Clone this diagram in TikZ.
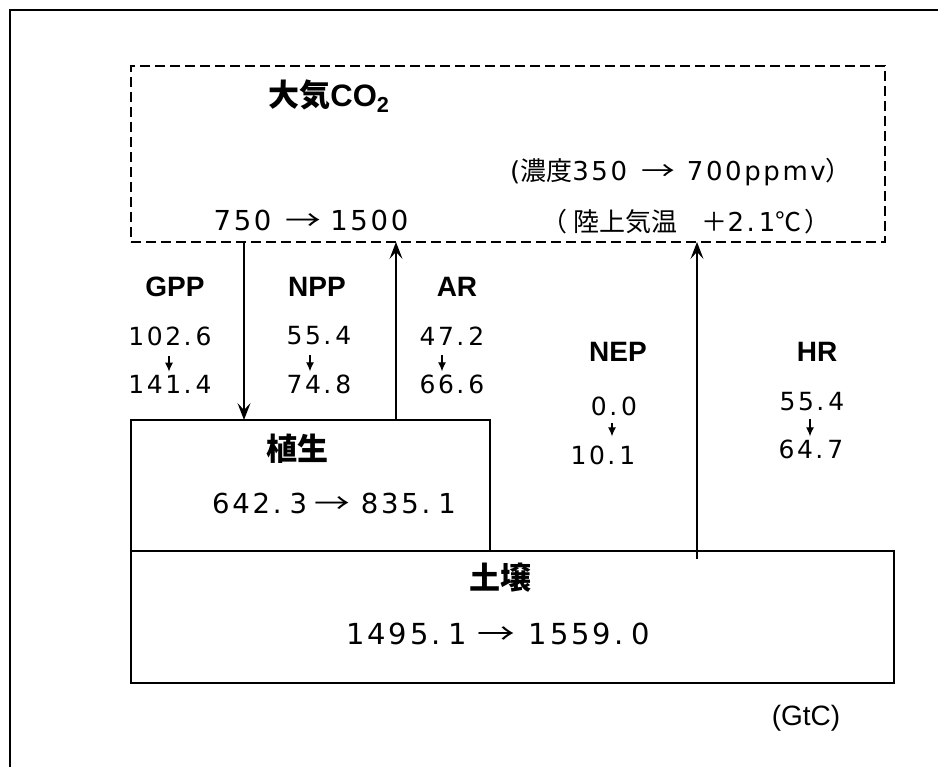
\documentclass[tikz,border=0pt]{standalone}
\usepackage{fontspec}
\usepackage{graphicx}
\setmainfont{Liberation Sans}
\newfontfamily\jp{Noto Sans CJK JP}
\newfontfamily\num[LetterSpace=10]{DejaVu Sans}
\usetikzlibrary{arrows.meta}
\newcommand\ra[3][1.3]{\hspace{#2}\scalebox{#1}[1]{\jp →}\hspace{#3}}
\newcommand\pd{.\hspace{4pt}}
\newcommand\pdl{.\hspace{8pt}}
\tikzset{
  box/.style={draw, line width=1.3pt, inner sep=0pt, outer sep=0pt, anchor=north west},
  bigarr/.style={-{Stealth[length=17pt,width=13pt,inset=7pt]}, line width=1.3pt},
  sarr/.style={-{Latex[length=9pt,width=8pt]}, line width=1.2pt},
  lbl/.style={font=\fontsize{28}{30}\selectfont\bfseries, inner sep=0pt},
  kan/.style={font=\fontsize{31}{33}\selectfont\jp\bfseries, inner sep=0pt},
  numt/.style={font=\fontsize{25}{28}\selectfont\num, inner sep=0pt},
  numa/.style={font=\fontsize{26}{28}\selectfont\num, inner sep=0pt},
  numm/.style={font=\fontsize{27.5}{30}\selectfont\num, inner sep=0pt},
  numl/.style={font=\fontsize{29}{32}\selectfont\num, inner sep=0pt},
}
\begin{document}
\begin{tikzpicture}[x=1pt,y=-1pt]
\clip (0,0) rectangle (938,767);
\draw[line width=2pt] (10,790) -- (10,10) -- (960,10);
% boxes
\node[box, dashed, dash pattern=on 10pt off 5pt, minimum width=754pt, minimum height=176pt] (atm) at (131,66) {};
\node[box, minimum width=359pt, minimum height=131pt] (veg) at (131,420) {};
\node[box, minimum width=763pt, minimum height=132pt] (soil) at (131,551) {};
% arrows
\coordinate (xg) at (244,0);
\coordinate (xa) at (396,0);
\coordinate (hrs) at (697,559);
\draw[bigarr] (xg |- atm.south) -- (xg |- veg.north);
\draw[bigarr] (xa |- veg.north) -- (xa |- atm.south);
\draw[bigarr] (hrs) -- (hrs |- atm.south);
% atmosphere texts
\node[font=\fontsize{31}{33}\selectfont\bfseries, inner sep=0pt] (atmt) at (329,96) {{\jp 大気}CO\textsubscript{2}};
\node[numa] (conc) at (681,172) {({\jp 濃度}350\ra{14pt}{12pt}700ppmv{\jp ）}};
\node[numm] (co2) at (311,220) {750\ra{14pt}{9pt}1500};
\node[numa] (temp) at (686,222) {{\jp （}\hspace{6pt}{\jp 陸上気温}\hspace{24pt}{\jp ＋}2\pd 1{\jp ℃}\hspace{3pt}{\jp ）}};
% flux labels
\node[lbl] (gpp) at (175,287) {GPP};
\node[lbl] (npp) at (317,287) {NPP};
\node[lbl] (ar) at (457,287) {AR};
\node[lbl] (nep) at (618,352) {NEP};
\node[lbl] (hr) at (817,352) {HR};
\node[numt] (g1) at (170,336) {102\pd 6};
\node[numt] (g2) at (170,384) {141\pd 4};
\node[numt] (n1) at (319,336) {55\pd 4};
\node[numt] (n2) at (319,384) {74\pd 8};
\node[numt] (a1) at (452,336) {47\pd 2};
\node[numt] (a2) at (452,384) {66\pd 6};
\node[numt] (e1) at (614,406) {0\pd 0};
\node[numt] (e2) at (603,455) {10\pd 1};
\node[numt] (h1) at (812,402) {55\pd 4};
\node[numt] (h2) at (811,449) {64\pd 7};
\draw[sarr, shorten <=10pt, shorten >=3pt] ([xshift=-1pt]g1.south) -- ([xshift=-1pt]g1.south |- g2.north);
\draw[sarr, shorten <=10pt, shorten >=3pt] ([xshift=-9pt]n1.south) -- ([xshift=-9pt]n1.south |- n2.north);
\draw[sarr, shorten <=10pt, shorten >=3pt] ([xshift=-10pt]a1.south) -- ([xshift=-10pt]a1.south |- a2.north);
\draw[sarr, shorten <=7pt, shorten >=9pt] ([xshift=-2pt]e1.south) -- ([xshift=-2pt]e1.south |- e2.north);
\draw[sarr, shorten <=8pt, shorten >=3pt] ([xshift=-2pt]h1.south) -- ([xshift=-2pt]h1.south |- h2.north);
% pools
\node[kan] (vegt) at (297,449) {植生};
\node[numm] (vegv) at (334,503) {642\pdl 3\ra{7pt}{11pt}835\pdl 1};
\node[kan] (soilt) at (500,578) {土壌};
\node[numl] (soilv) at (498,634) {1495\pdl 1\ra{10pt}{14pt}1559\pdl 0};
\node[font=\fontsize{28}{30}\selectfont, inner sep=0pt] (unit) at (806,718) {(GtC)};
\end{tikzpicture}
\end{document}
